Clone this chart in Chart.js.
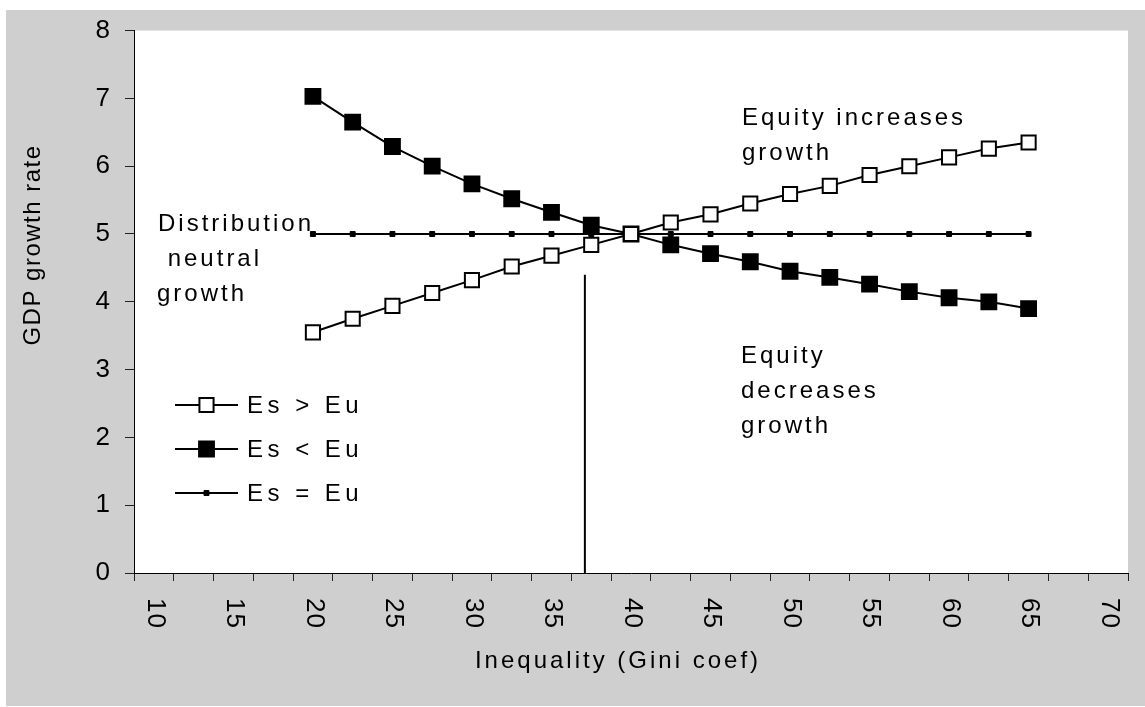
<!DOCTYPE html>
<html><head><meta charset="utf-8">
<script src="https://cdn.jsdelivr.net/npm/chart.js@4.4.1/dist/chart.umd.min.js"></script>
<style>html,body{margin:0;padding:0;background:#fff;}canvas{display:block;}</style>
</head><body>
<canvas id="c" width="1145" height="707"></canvas>
<script>
// ---- data ----
const GINI = [20, 22.5, 25, 27.5, 30, 32.5, 35, 37.5, 40, 42.5, 45, 47.5, 50, 52.5, 55, 57.5, 60, 62.5, 65];
const ES_GT_EU = [3.55, 3.75, 3.94, 4.13, 4.32, 4.52, 4.68, 4.84, 5.00, 5.17, 5.29, 5.45, 5.59, 5.71, 5.87, 6.00, 6.13, 6.26, 6.35];
const ES_LT_EU = [7.03, 6.65, 6.29, 6.00, 5.74, 5.52, 5.32, 5.13, 5.00, 4.84, 4.71, 4.59, 4.45, 4.36, 4.26, 4.15, 4.06, 4.00, 3.90];
const ES_EQ_EU = [5, 5, 5, 5, 5, 5, 5, 5, 5, 5, 5, 5, 5, 5, 5, 5, 5, 5, 5];
const SERIES_NAMES = ['Es > Eu', 'Es < Eu', 'Es = Eu'];
const X_TICK_LABELS = [10, 15, 20, 25, 30, 35, 40, 45, 50, 55, 60, 65, 70];
const X_TICK_MARKS = [8.75, 11.25, 13.75, 16.25, 18.75, 21.25, 23.75, 26.25, 28.75, 31.25, 33.75, 36.25, 38.75, 41.25, 43.75, 46.25, 48.75, 51.25, 53.75, 56.25, 58.75, 61.25, 63.75, 66.25, 68.75, 71.25];
const MARK_GINI = [37.1, 37.1];
const MARK_GDP = [0, 4.4];
const X_TITLE = 'Inequality (Gini coef)';
const Y_TITLE = 'GDP growth rate';
const NOTE_DIST = ['Distribution', ' neutral', 'growth'];
const NOTE_UP = ['Equity increases', 'growth'];
const NOTE_DOWN = ['Equity', 'decreases', 'growth'];

// ---- styling ----
const FONT = '"Liberation Sans", Arial, sans-serif';
Chart.defaults.font.family = FONT;
Chart.defaults.font.size = 26;
Chart.defaults.color = '#000';

const pts = (xs, ys) => xs.map((x, i) => ({x: x, y: ys[i]}));

const notes = [
  {lines: NOTE_DIST, x: [158, 158, 157], y0: 231, dy: 35},
  {lines: NOTE_UP, x: [742, 742], y0: 125, dy: 35},
  {lines: NOTE_DOWN, x: [741, 741, 741], y0: 363, dy: 35}
];
const legendRows = {x0: 175, x1: 238, textX: 247, y: [405, 449, 493]};

const decor = {
  id: 'decor',
  beforeDraw(chart) {
    const ctx = chart.ctx, a = chart.chartArea;
    ctx.save();
    ctx.fillStyle = '#fff';
    ctx.fillRect(0, 0, chart.width, chart.height);
    ctx.fillStyle = '#cfcfcf';
    ctx.fillRect(6, 10, chart.width - 6, chart.height - 11);
    ctx.fillStyle = '#fff';
    ctx.fillRect(a.left, a.top, a.right - a.left, a.bottom - a.top);
    ctx.restore();
  },
  afterDraw(chart) {
    const ctx = chart.ctx;
    const xs = chart.scales.x;
    ctx.save();
    ctx.fillStyle = '#000';
    // x tick labels (rotated clockwise)
    ctx.font = '26px ' + FONT;
    ctx.letterSpacing = '1px';
    ctx.textAlign = 'left';
    ctx.textBaseline = 'middle';
    X_TICK_LABELS.forEach(v => {
      ctx.save();
      ctx.translate(xs.getPixelForValue(v) + 1, xs.top + 25);
      ctx.rotate(Math.PI / 2);
      ctx.fillText(String(v), 0, 0);
      ctx.restore();
    });
    // axis titles
    ctx.font = '24px ' + FONT;
    ctx.letterSpacing = '3px';
    ctx.textAlign = 'center';
    ctx.fillText(X_TITLE, 618, 661);
    ctx.save();
    ctx.letterSpacing = '1.5px';
    ctx.translate(33, 245);
    ctx.rotate(-Math.PI / 2);
    ctx.fillText(Y_TITLE, 0, 0);
    ctx.restore();
    // annotations
    ctx.letterSpacing = '3px';
    ctx.textAlign = 'left';
    ctx.textBaseline = 'alphabetic';
    notes.forEach(n => {
      n.lines.forEach((t, i) => ctx.fillText(t, n.x[i], n.y0 + i * n.dy));
    });
    // legend
    ctx.letterSpacing = '4.5px';
    chart.data.datasets.slice(0, 3).forEach((ds, i) => {
      const y = legendRows.y[i];
      ctx.strokeStyle = ds.borderColor;
      ctx.lineWidth = ds.borderWidth;
      ctx.beginPath();
      ctx.moveTo(legendRows.x0, y);
      ctx.lineTo(legendRows.x1, y);
      ctx.stroke();
      const cx = (legendRows.x0 + legendRows.x1) / 2;
      const s = Math.SQRT1_2 * ds.pointRadius;
      ctx.fillStyle = ds.pointBackgroundColor;
      ctx.strokeStyle = ds.pointBorderColor;
      ctx.lineWidth = ds.pointBorderWidth;
      ctx.beginPath();
      ctx.rect(cx - s, y - s, 2 * s, 2 * s);
      ctx.fill();
      ctx.stroke();
      ctx.fillStyle = '#000';
      ctx.textBaseline = 'middle';
      ctx.fillText(ds.label, legendRows.textX, y + 1);
    });
    ctx.restore();
  }
};

new Chart(document.getElementById('c'), {
  type: 'line',
  data: {
    datasets: [
      {label: SERIES_NAMES[0], data: pts(GINI, ES_GT_EU), borderColor: '#000', borderWidth: 2,
       pointStyle: 'rect', pointRadius: 10, pointBackgroundColor: '#fff', pointBorderColor: '#000', pointBorderWidth: 2},
      {label: SERIES_NAMES[1], data: pts(GINI, ES_LT_EU), borderColor: '#000', borderWidth: 2,
       pointStyle: 'rect', pointRadius: 10.5, pointBackgroundColor: '#000', pointBorderColor: '#000', pointBorderWidth: 2},
      {label: SERIES_NAMES[2], data: pts(GINI, ES_EQ_EU), borderColor: '#000', borderWidth: 2,
       pointStyle: 'rect', pointRadius: 3.5, pointBackgroundColor: '#000', pointBorderColor: '#000', pointBorderWidth: 1},
      {label: 'marker', data: pts(MARK_GINI, MARK_GDP), borderColor: '#000', borderWidth: 2, pointRadius: 0}
    ]
  },
  options: {
    responsive: false,
    animation: false,
    events: [],
    layout: {padding: {top: 26, right: 17, left: 0, bottom: 0}},
    plugins: {legend: {display: false}, tooltip: {enabled: false}},
    scales: {
      x: {
        type: 'linear', min: 8.75, max: 71.25,
        afterBuildTicks: s => { s.ticks = X_TICK_MARKS.map(v => ({value: v})); },
        afterFit: s => { s.height = 134; },
        ticks: {display: false},
        grid: {drawOnChartArea: false, drawTicks: true, tickLength: 8, color: '#222'},
        border: {color: '#000', width: 1},
        title: {display: false}
      },
      y: {
        type: 'linear', min: 0, max: 8,
        afterFit: s => { s.width = 134; },
        ticks: {stepSize: 1, padding: 15, font: {size: 26}},
        grid: {drawOnChartArea: false, drawTicks: true, tickLength: 9, color: '#222'},
        border: {color: '#000', width: 1},
        title: {display: false}
      }
    }
  },
  plugins: [decor]
});
</script>
</body></html>
